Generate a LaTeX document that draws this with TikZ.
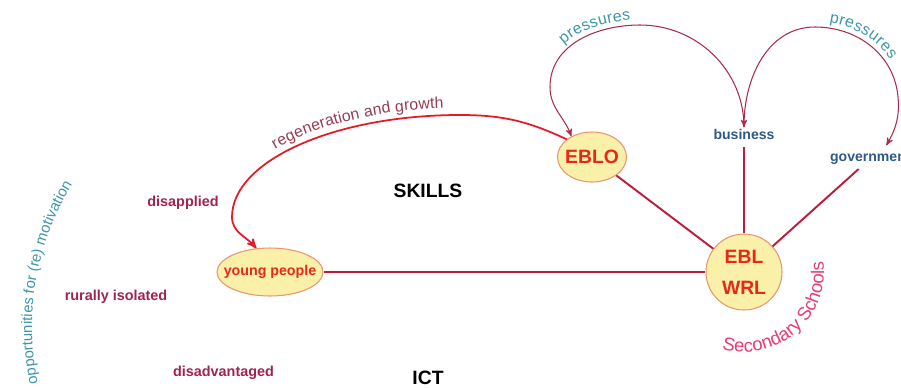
\documentclass[tikz,border=0pt]{standalone}
\usepackage{fontspec}
\setmainfont{Liberation Sans}
\usepackage{tikz}
\usetikzlibrary{arrows,shapes.geometric,decorations.text}

\definecolor{nodefill}{RGB}{251,240,170}
\definecolor{nodeline}{RGB}{232,150,110}
\definecolor{nodetext}{RGB}{232,40,25}
\definecolor{linkred}{RGB}{185,30,60}
\definecolor{arrowred}{RGB}{230,25,40}
\definecolor{pressred}{RGB}{170,45,75}
\definecolor{labmaroon}{RGB}{160,35,80}
\definecolor{regtext}{RGB}{150,60,80}
\definecolor{tealtext}{RGB}{60,150,170}
\definecolor{bluetext}{RGB}{45,90,135}
\definecolor{schooltext}{RGB}{230,60,120}

\begin{document}
\begin{tikzpicture}[x=0.02cm,y=0.02cm,
  blob/.style={ellipse,draw=nodeline,fill=nodefill,line width=0.6pt,inner sep=0pt,text=nodetext},
  side/.style={font=\fontsize{8.2}{10}\selectfont\bfseries,text=labmaroon,inner sep=1pt},
  actor/.style={font=\fontsize{8}{10}\selectfont\bfseries,text=bluetext,inner sep=1pt},
  theme/.style={font=\fontsize{11}{13}\selectfont\bfseries,inner sep=1pt},
  link/.style={draw=linkred,line width=1.1pt},
  regenarrow/.style={draw=arrowred,line width=1pt,-stealth'},
  press/.style={draw=pressred,line width=0.6pt}]

\useasboundingbox (0,0) rectangle (901,387);
\clip (0,0) rectangle (901,387);

\node[blob,inner xsep=-5.5pt,minimum width=2.12cm,minimum height=0.96cm,font=\fontsize{8.1}{10}\selectfont\bfseries] (young) at (270,115) {young people};
\node[blob,inner xsep=-2pt,minimum width=1.38cm,minimum height=1.0cm,font=\fontsize{11}{13}\selectfont\bfseries] (eblo) at (592,230) {EBLO};
\node[blob,circle,minimum size=1.52cm,align=center,font=\fontsize{11}{17.6}\selectfont\bfseries] (ebl) at (744,115) {EBL\\WRL};

\node[actor] (business) at (744,252.5) {business};
\node[actor,anchor=west] (government) at (828,228.5) {government};

\node[side] (disapplied) at (183,184.5) {disapplied};
\node[side] (rural) at (116,90) {rurally isolated};
\node[side] (disadv) at (223.5,14) {disadvantaged};
\node[theme] (skills) at (428,196) {SKILLS};
\node[theme] (ict) at (428,9) {ICT};

\draw[link] (young) -- (ebl);
\draw[link] (eblo) -- (ebl);
\draw[link,shorten <=3pt] (business) -- (ebl);
\draw[link,shorten <=2pt] (government) -- (ebl);

\draw[regenarrow] (eblo.145) to[out=155,in=0] (460,272) .. controls (334,272) and (232,226) .. (232,170) to[out=-90,in=130] (young.120);
\path[decorate,decoration={text along path,text align={left indent=1.62cm},raise=4pt,
  text={|\fontsize{9}{11}\selectfont\color{regtext}|regeneration and growth}}]
  (232,170) .. controls (232,226) and (334,272) .. (460,272) to[out=0,in=155] (eblo.145);

\draw[press,stealth'-] (eblo.135) to[out=110,in=-90] (550,300) to[out=90,in=180] (640,362) to[out=0,in=90] (business.north);
\draw[press,stealth'-stealth'] (business.north) to[out=90,in=180] (815,360) to[out=0,in=95] (898,290) to[out=-85,in=60] ([shift={(16,5)}]government.north);
\path[decorate,decoration={text along path,text align={left indent=1.95cm},raise=3pt,
  text={|\fontsize{9}{11}\selectfont\color{tealtext}|pressures}}]
  (eblo.135) to[out=110,in=-90] (550,300) to[out=90,in=180] (640,362) to[out=0,in=90] (business.north);
\path[decorate,decoration={text along path,text align={left indent=3.0cm},raise=3pt,
  text={|\fontsize{9}{11}\selectfont\color{tealtext}|pressures}}]
  (business.north) to[out=90,in=180] (815,360) to[out=0,in=95] (898,290);

\path[decorate,decoration={text along path,
  text={|\fontsize{10.5}{12}\selectfont\color{schooltext}|Secondary Schools}}]
  ([shift={(-106:80)}]ebl.center) arc (-106:20:80);
\path[decorate,decoration={text along path,
  text={|\fontsize{8.5}{10}\selectfont\color{tealtext}|opportunities for (re) motivation}}]
  (37.9,3.7) arc (192:130:271);
\end{tikzpicture}
\end{document}
